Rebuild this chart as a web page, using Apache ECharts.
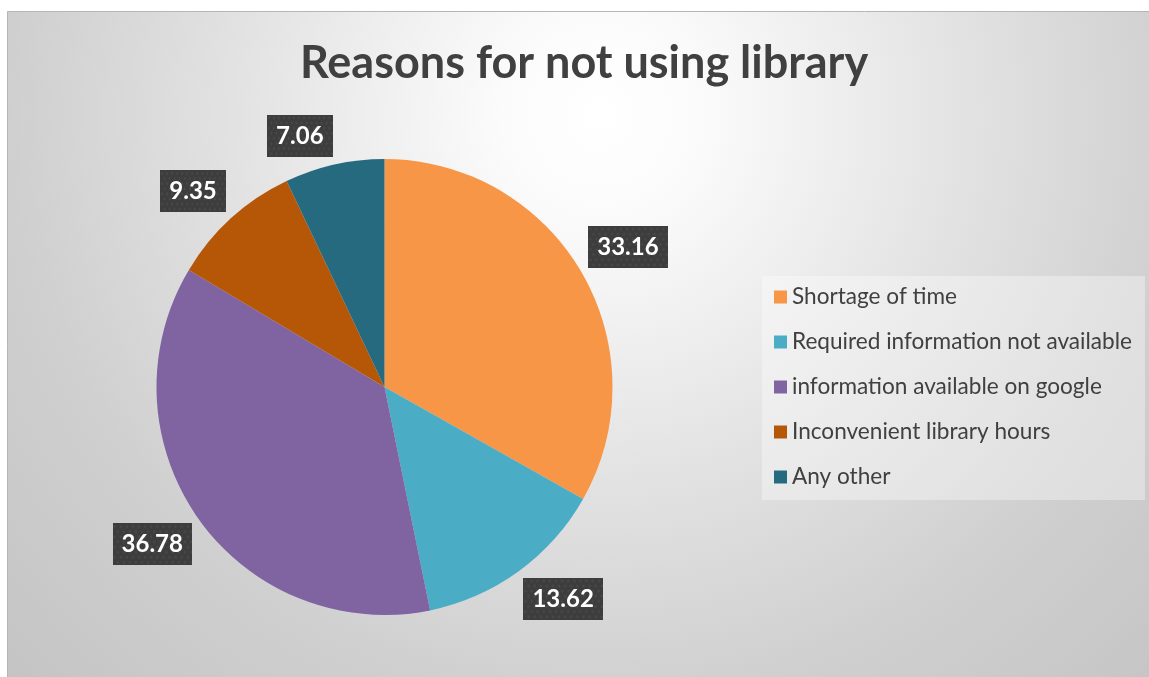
<!DOCTYPE html>
<html><head><meta charset="utf-8">
<script src="https://cdn.jsdelivr.net/npm/echarts@6/dist/echarts.min.js"></script>
<style>html,body{margin:0;padding:0;background:#fff}#c{width:1149px;height:677px}</style>
</head><body><div id="c"></div>
<script>
const categories = ['Shortage of time', 'Required information not available', 'information available on google', 'Inconvenient library hours', 'Any other'];
const values = [33.16, 13.62, 36.78, 9.35, 7.06];
const colors = ['#F79646', '#4BACC6', '#8064A2', '#B65708', '#256A7E'];
const titleText = 'Reasons for not using library';

const CX = 384.5, CY = 387, R = 228, GAP = 8;
const total = values.reduce((a, b) => a + b, 0);
function midAngle(i) {
  let s = 0;
  for (let k = 0; k < i; k++) s += values[k];
  return (s + values[i] / 2) / total * 2 * Math.PI;
}

// dotted dark label background
const pc = document.createElement('canvas');
pc.width = 78; pc.height = 41;
const g = pc.getContext('2d');
g.fillStyle = '#3d3d3d'; g.fillRect(0, 0, 78, 41);
g.fillStyle = 'rgba(255,255,255,0.06)';
for (let y = 3, r = 0; y < 41; y += 5, r++) {
  for (let x = (r % 2 ? 5 : 2); x < 78; x += 6) {
    g.beginPath(); g.arc(x, y, 1.4, 0, Math.PI * 2); g.fill();
  }
}

const chart = echarts.init(document.getElementById('c'), null, {renderer: 'canvas'});
chart.setOption({
  animation: false,
  graphic: {
    elements: [{
      type: 'rect', z: -10, silent: true,
      shape: {x: 7.5, y: 11.5, width: 1145, height: 668},
      style: {
        fill: new echarts.graphic.RadialGradient(600, 115, 820, [
          {offset: 0, color: '#ffffff'},
          {offset: 0.12, color: '#fbfbfb'},
          {offset: 0.45, color: '#e2e2e2'},
          {offset: 0.72, color: '#cfcfcf'},
          {offset: 1, color: '#c4c4c4'}
        ], true),
        stroke: '#b5b5b5', lineWidth: 1
      }
    }]
  },
  title: {
    text: titleText,
    left: 579, top: 36, textAlign: 'center',
    textStyle: {fontFamily: 'Lato', fontWeight: 'bold', fontSize: 45, color: '#404040'}
  },
  legend: {
    orient: 'vertical', left: 762, top: 276,
    itemWidth: 13, itemHeight: 13, itemGap: 21, icon: 'rect',
    padding: [9, 13, 11, 12],
    backgroundColor: 'rgba(255,255,255,0.35)',
    textStyle: {fontFamily: 'Lato', fontSize: 22.6, color: '#404040', lineHeight: 24},
    data: categories
  },
  series: [{
    type: 'pie',
    center: [CX, CY],
    radius: R,
    startAngle: 90,
    clockwise: true,
    avoidLabelOverlap: false,
    color: colors,
    itemStyle: {borderWidth: 0},
    labelLine: {show: false},
    label: {
      show: true,
      position: 'inside',
      formatter: p => p.value.toFixed(2),
      fontFamily: 'Lato', fontWeight: 'bold', fontSize: 24, lineHeight: 30,
      color: '#ffffff',
      padding: [6, 9],
      backgroundColor: {image: pc},
      shadowColor: 'rgba(0,0,0,0.45)', shadowBlur: 6, shadowOffsetX: 3, shadowOffsetY: 4
    },
    labelLayout: function (p) {
      const a = midAngle(p.dataIndex);
      const sx = Math.sin(a), sy = -Math.cos(a);
      const rc = p.labelRect;
      const w = rc.width, h = rc.height;
      // nearest corner of the box sits just outside the rim along the slice's mid angle
      const tx = CX + (R + GAP) * sx + Math.sign(sx) * w / 2;
      const ty = CY + (R + GAP) * sy + Math.sign(sy) * h / 2;
      return {
        dx: tx - (rc.x + w / 2),
        dy: ty - (rc.y + h / 2)
      };
    },
    emphasis: {disabled: true},
    data: categories.map((c, i) => ({name: c, value: values[i]}))
  }]
});
</script>
</body></html>
